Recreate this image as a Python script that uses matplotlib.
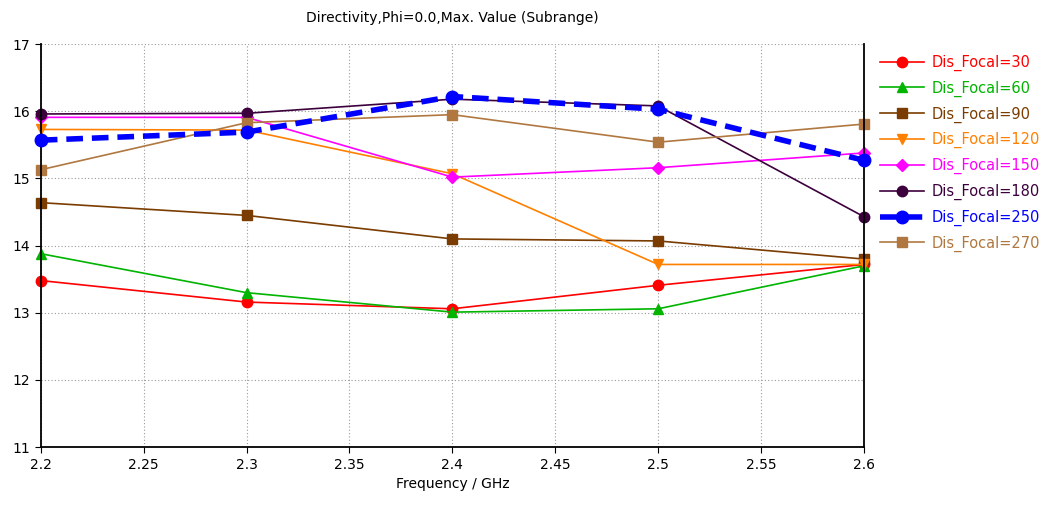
import matplotlib.pyplot as plt

freq = [2.2, 2.3, 2.4, 2.5, 2.6]
labels = ["Dis_Focal=30", "Dis_Focal=60", "Dis_Focal=90", "Dis_Focal=120",
          "Dis_Focal=150", "Dis_Focal=180", "Dis_Focal=250", "Dis_Focal=270"]
d30 = [13.48, 13.16, 13.06, 13.41, 13.72]
d60 = [13.88, 13.30, 13.01, 13.06, 13.70]
d90 = [14.64, 14.45, 14.10, 14.07, 13.80]
d120 = [15.73, 15.72, 15.07, 13.72, 13.72]
d150 = [15.91, 15.91, 15.02, 15.16, 15.38]
d180 = [15.96, 15.97, 16.18, 16.08, 14.43]
d250 = [15.57, 15.69, 16.22, 16.03, 15.27]
d270 = [15.13, 15.83, 15.95, 15.54, 15.81]

series = [d30, d60, d90, d120, d150, d180, d250, d270]
colors = ["#ff0000", "#00b400", "#7a3c00", "#ff8000", "#ff00ff", "#3c003c", "#0000ff", "#b07840"]
markers = ["o", "^", "s", "v", "D", "o", "o", "s"]

fig = plt.figure(figsize=(10.46, 5.07), dpi=100)
ax = fig.add_axes([0.039, 0.118, 0.787, 0.795])

for y, lab, c, m in zip(series, labels, colors, markers):
    if lab == "Dis_Focal=250":
        ax.plot(freq, y, color=c, marker=m, markersize=9, linewidth=4, linestyle=(0, (3, 1.6)),
                label=lab, zorder=3, clip_on=False)
    else:
        ms = 6 if m == "D" else 7.5
        ax.plot(freq, y, color=c, marker=m, markersize=ms, linewidth=1.2, label=lab, zorder=2, clip_on=False)

ax.set_xlim(2.2, 2.6)
ax.set_ylim(11, 17)
ax.set_xticks([2.2, 2.25, 2.3, 2.35, 2.4, 2.45, 2.5, 2.55, 2.6])
ax.set_xticklabels(["2.2", "2.25", "2.3", "2.35", "2.4", "2.45", "2.5", "2.55", "2.6"])
ax.set_yticks([11, 12, 13, 14, 15, 16, 17])
ax.tick_params(labelsize=10, direction="out", length=4)
ax.grid(True, color="#999999", linestyle=(0, (1, 2)), linewidth=0.8)
ax.spines["top"].set_visible(False)
for s in ["left", "right", "bottom"]:
    ax.spines[s].set_linewidth(1.3)
ax.set_xlabel("Frequency / GHz", fontsize=10)
ax.set_title("Directivity,Phi=0.0,Max. Value (Subrange)", fontsize=10, pad=16)

fig.legend(loc="upper left", bbox_to_anchor=(0.829, 0.918), frameon=False, fontsize=10.5,
           labelcolor="linecolor", handlelength=3.0, handletextpad=0.55, labelspacing=0.66)

fig.savefig("out.png", dpi=100)
